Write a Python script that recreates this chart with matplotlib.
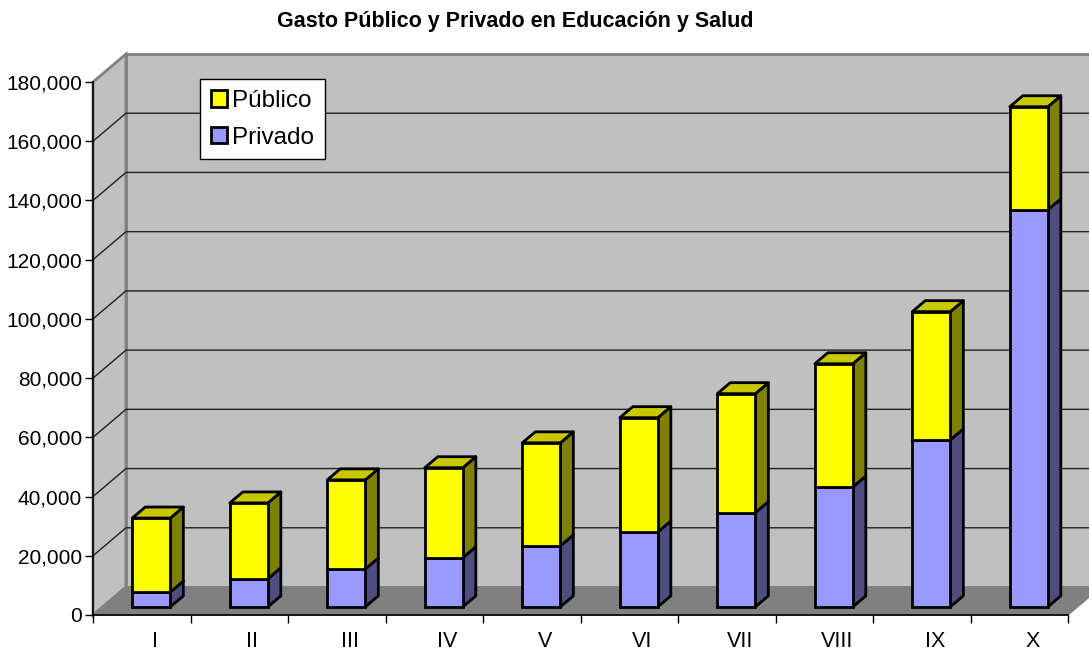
import matplotlib
matplotlib.use('Agg')
import matplotlib.pyplot as plt
import matplotlib.transforms as mtransforms
from matplotlib.patches import Polygon
from matplotlib.ticker import FuncFormatter

plt.rcParams['font.family'] = ['Liberation Sans', 'DejaVu Sans']

# data
categories = ['I', 'II', 'III', 'IV', 'V', 'VI', 'VII', 'VIII', 'IX', 'X']
privado = [5000, 9500, 12800, 16600, 20600, 25300, 31800, 40500, 56400, 134100]
publico = [25000, 25600, 30100, 30400, 34800, 38600, 40200, 41600, 43300, 34800]
series_names = ['Público', 'Privado']
title = 'Gasto Público y Privado en Educación y Salud'

# fake 3d look (pixels)
DPI = 100
FLOOR_D = (33, 28)      # depth of the floor / walls
BAR_POS = 0.29          # where the bar front sits inside the floor depth
BAR_D = (13, 11)        # depth of a bar
BAR_W = 0.39
YMAX = 180000

fig = plt.figure(figsize=(10.89, 6.52), dpi=DPI)
ax = fig.add_axes([93/1089, 37/652, 975/1089, 533/652])
ax.set_xlim(0, len(categories))
ax.set_ylim(0, YMAX)
ax.patch.set_visible(False)

ident = mtransforms.IdentityTransform()


def shift(dx, dy):
  return mtransforms.ScaledTranslation(dx/DPI, dy/DPI, fig.dpi_scale_trans)


def px(x, y, dx=0, dy=0):
  p = ax.transData.transform((x, y))
  return (p[0] + dx, p[1] + dy)


def poly(pts, **kw):
  ax.add_patch(Polygon(pts, closed=True, transform=ident, clip_on=False, **kw))


n = len(categories)
dx, dy = FLOOR_D
# walls and floor
poly([px(0, 0), px(0, YMAX), px(0, YMAX, dx, dy), px(0, 0, dx, dy)],
     facecolor='#C0C0C0', edgecolor='#808080', lw=2, zorder=0)
poly([px(0, 0, dx, dy), px(0, YMAX, dx, dy), px(n, YMAX, dx, dy), px(n, 0, dx, dy)],
     facecolor='#C0C0C0', edgecolor='#808080', lw=2, zorder=0)
poly([px(0, 0), px(n, 0), px(n, 0, dx, dy), px(0, 0, dx, dy)],
     facecolor='#808080', edgecolor='#808080', lw=1, zorder=0.5)

# gridlines on side and back wall
for v in range(20000, YMAX, 20000):
  a = px(0, v)
  b = px(0, v, dx, dy)
  c = px(n, v, dx, dy)
  ax.plot([a[0], b[0], c[0]], [a[1], b[1], c[1]], color='#202020', lw=1,
          transform=ident, clip_on=False, zorder=0.3)

# bars
fdx, fdy = BAR_POS * dx, BAR_POS * dy
bdx, bdy = BAR_D
xs = [i + 0.5 for i in range(n)]
front = ax.transData + shift(fdx, fdy)
b_priv = ax.bar(xs, privado, BAR_W, color='#9999FF', edgecolor='black', lw=2,
                transform=front, zorder=3, label=series_names[1])
b_pub = ax.bar(xs, publico, BAR_W, bottom=privado, color='#FFFF00', edgecolor='black',
               lw=2, transform=front, zorder=3, label=series_names[0])

for i in range(n):
  xr = xs[i] + BAR_W / 2
  xl = xs[i] - BAR_W / 2
  top = privado[i] + publico[i]
  # privado side
  poly([px(xr, 0, fdx, fdy), px(xr, privado[i], fdx, fdy),
        px(xr, privado[i], fdx + bdx, fdy + bdy), px(xr, 0, fdx + bdx, fdy + bdy)],
       facecolor='#4D4D80', edgecolor='black', lw=2, joinstyle='round', zorder=2)
  # publico side
  poly([px(xr, privado[i], fdx, fdy), px(xr, top, fdx, fdy),
        px(xr, top, fdx + bdx, fdy + bdy), px(xr, privado[i], fdx + bdx, fdy + bdy)],
       facecolor='#808000', edgecolor='black', lw=2, joinstyle='round', zorder=2)
  # publico top
  poly([px(xl, top, fdx, fdy), px(xr, top, fdx, fdy),
        px(xr, top, fdx + bdx, fdy + bdy), px(xl, top, fdx + bdx, fdy + bdy)],
       facecolor='#C8C800', edgecolor='black', lw=2, joinstyle='round', zorder=2)

# axes
for s in ['top', 'right']:
  ax.spines[s].set_visible(False)
ax.spines['left'].set_linewidth(1.2)
ax.spines['bottom'].set_linewidth(1.2)
ax.spines['left'].set_zorder(4)
ax.spines['bottom'].set_zorder(4)
ax.set_yticks(range(0, YMAX + 1, 20000))
ax.yaxis.set_major_formatter(FuncFormatter(lambda v, p: '{:,}'.format(int(v))))
ax.set_xticks(range(n + 1))
ax.set_xticklabels([])
ax.tick_params(axis='both', direction='out', length=6, width=1, labelsize=15,
               colors='black')
ax.tick_params(axis='y', pad=2)

lbl_trans = ax.transData + shift(13, -16)
for i, c in enumerate(categories):
  ax.text(xs[i], 0, c, transform=lbl_trans, ha='center', va='top', fontsize=15.5)

leg = ax.legend(handles=[b_pub, b_priv], loc='upper left',
                bbox_to_anchor=(200/1089, 1 - 79/652), bbox_transform=fig.transFigure,
                borderaxespad=0, fancybox=False, edgecolor='black', framealpha=1,
                fontsize=17.5, handlelength=0.65, handleheight=0.65, handletextpad=0.2,
                borderpad=0.45, labelspacing=0.6)
leg.get_frame().set_linewidth(1)
leg.set_zorder(10)

fig.text(515/1089, 1 - 22/652, title, ha='center', va='center', fontsize=15.5,
         fontweight='bold')

fig.savefig('out.png', dpi=DPI)
